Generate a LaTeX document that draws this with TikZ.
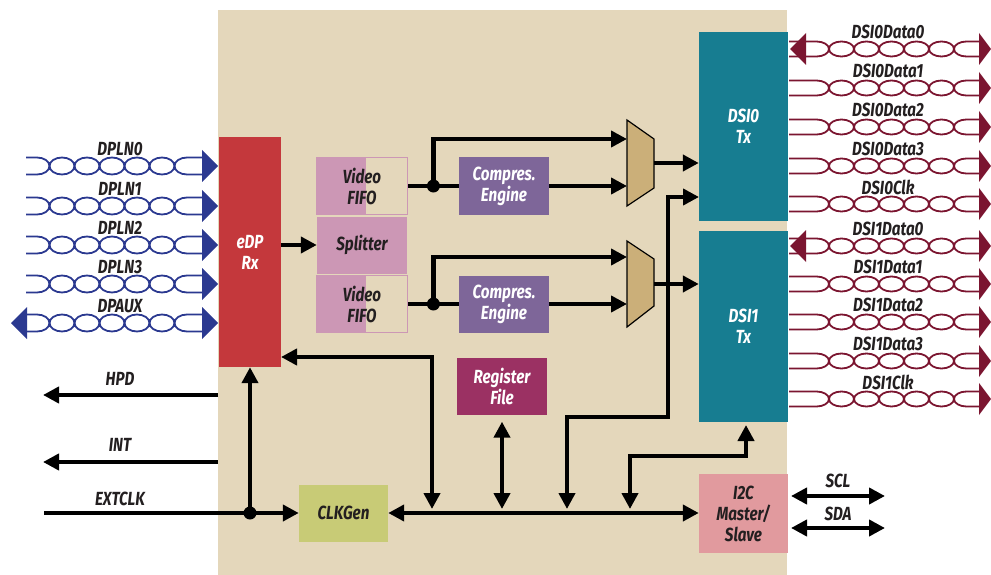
\documentclass[tikz,border=0pt]{standalone}
\usepackage{fontspec}
\setmainfont{Fira Sans}[FakeStretch=0.8]
\usetikzlibrary{arrows.meta}
\usetikzlibrary{calc}

\definecolor{bgbeige}{HTML}{E4D7BB}
\definecolor{edpred}{HTML}{C4383C}
\definecolor{fifopink}{HTML}{CC97B5}
\definecolor{engpurple}{HTML}{7E6699}
\definecolor{muxtan}{HTML}{CBAF79}
\definecolor{dsiteal}{HTML}{177D91}
\definecolor{regred}{HTML}{9B3163}
\definecolor{clkgreen}{HTML}{C8CB76}
\definecolor{i2cpink}{HTML}{E19A9E}
\definecolor{dpblue}{HTML}{2B3990}
\definecolor{dsired}{HTML}{7B1530}
\definecolor{txtdark}{HTML}{231F20}

% twisted pair: x start, y, first straight, last straight, colour, half gap
\newcommand{\twpair}[6]{%
	\draw[pair,#5] (#1,#2-#6) -- ++(#3,0)
		arc[start angle=90,end angle=0,x radius=12.5pt,y radius=#6pt]
		\foreach \k in {1,...,5}{arc[start angle=180,end angle=0,x radius=12.5pt,y radius=#6pt]}
		arc[start angle=180,end angle=90,x radius=12.5pt,y radius=#6pt] -- ++(#4,0);
	\draw[pair,#5] (#1,#2+#6) -- ++(#3,0)
		arc[start angle=-90,end angle=0,x radius=12.5pt,y radius=#6pt]
		\foreach \k in {1,...,5}{arc[start angle=180,end angle=360,x radius=12.5pt,y radius=#6pt]}
		arc[start angle=180,end angle=270,x radius=12.5pt,y radius=#6pt] -- ++(#4,0);
}
% pair arrow head: base x, y, length (signed), colour
\newcommand{\ptip}[4]{%
	\fill[#4] (#1,#2-16) -- (#1+#3,#2) -- (#1,#2+16) -- cycle;
}

\begin{document}
\begin{tikzpicture}[x={(1pt,0pt)},y={(0pt,-1pt)}]
			\tikzset{block/.style={minimum width=90pt, minimum height=57pt, inner sep=0pt, align=center,
					text=txtdark, font=\fontsize{19}{21}\selectfont\bfseries\itshape}}
			\tikzset{lbl/.style={text=txtdark, inner sep=0pt, font=\fontsize{19}{21}\selectfont\bfseries\itshape}}
			\tikzset{pair/.style={line width=1.8pt}}
			\tikzset{link/.style={line width=4.5pt}}
			\tikzset{arr/.style={link, -{Triangle[length=16pt,width=16pt]}}}
			\tikzset{arr2/.style={link, {Triangle[length=16pt,width=16pt]}-{Triangle[length=16pt,width=16pt]}}}
			\tikzset{mux/.style={fill=muxtan, draw=black, line width=1.2pt}}
			\useasboundingbox (0,0) rectangle (991,575);
			\fill[bgbeige] (218,10) rectangle (787,575);
			%blocks
			\node[block, fill=edpred, text=white, minimum width=62pt, minimum height=230pt] (edp) at (250,252) {eDP\\Rx};
			\node[block, fill=bgbeige, draw=fifopink, line width=1pt, minimum width=91pt,
				path picture={\fill[fifopink] (path picture bounding box.south west) rectangle ([xshift=4pt]path picture bounding box.north);}]
				(fifoA) at (362,186) {Video\\FIFO};
			\node[block, fill=fifopink] (split) at (362,245) {Splitter};
			\node[block, fill=bgbeige, draw=fifopink, line width=1pt, minimum width=91pt,
				path picture={\fill[fifopink] (path picture bounding box.south west) rectangle ([xshift=4pt]path picture bounding box.north);}]
				(fifoB) at (362,304) {Video\\FIFO};
			\node[block, fill=engpurple, text=white] (engA) at (504,186) {Compres.\\Engine};
			\node[block, fill=engpurple, text=white] (engB) at (504,304) {Compres.\\Engine};
			\node[block, fill=dsiteal, text=white, minimum width=89pt, minimum height=189pt] (dsi0) at (743.5,126.5) {DSI0\\Tx};
			\node[block, fill=dsiteal, text=white, minimum width=89pt, minimum height=191pt] (dsi1) at (743.5,326.5) {DSI1\\Tx};
			\node[block, fill=regred, text=white] (reg) at (502,386) {Register\\File};
			\node[block, fill=clkgreen, minimum width=89pt] (clk) at (343.5,513) {CLKGen};
			\node[block, fill=i2cpink, minimum width=89pt, minimum height=79pt] (i2c) at (743.5,513.5) {I2C\\Master/\\Slave};
			%muxes
			\draw[mux] (627,120) -- (654,139) -- (654,188) -- (627,206) -- cycle;
			\draw[mux] (627,241) -- (654,259) -- (654,306) -- (627,327) -- cycle;
			\coordinate (muxAin1) at (627,139);
			\coordinate (muxAin2) at (627,187);
			\coordinate (muxAout) at (654,163);
			\coordinate (muxBin1) at (627,257);
			\coordinate (muxBin2) at (627,307);
			\coordinate (muxBout) at (654,284);
			%video path
			\draw[arr] (edp.east |- split) -- (split.west);
			\coordinate (dotA) at ($(fifoA.east)!0.5!(engA.west)$);
			\coordinate (dotB) at ($(fifoB.east)!0.5!(engB.west)$);
			\draw[link] (fifoA.east) -- (engA.west);
			\draw[link] (fifoB.east) -- (engB.west);
			\draw[arr] (dotA) |- (muxAin1);
			\draw[arr] (dotB) |- (muxBin1);
			\fill (dotA) circle (6.5pt);
			\fill (dotB) circle (6.5pt);
			\draw[arr] (engA.east) -- (engA.east -| muxAin2);
			\draw[arr] (engB.east) -- (engB.east -| muxBin2);
			\draw[arr] (muxAout) -- (muxAout -| dsi0.west);
			\draw[arr] (muxBout) -- (muxBout -| dsi1.west);
			%clock and control
			\coordinate (extclk) at (44,513);
			\coordinate (dotE) at (edp.south |- clk);
			\draw[arr] (extclk) -- (clk.west);
			\draw[arr] (dotE) -- (edp.south);
			\fill (dotE) circle (6.5pt);
			\coordinate (hpdA) at (218,395);
			\coordinate (hpdB) at (43,395);
			\coordinate (intA) at (218,462);
			\coordinate (intB) at (43,462);
			\draw[arr] (hpdA) -- (hpdB);
			\draw[arr] (intA) -- (intB);
			\node[lbl] (hpd) at (120,379) {HPD};
			\node[lbl] (int) at (120,445) {INT};
			\node[lbl] (ext) at (120,499) {EXTCLK};
			%bus
			\draw[arr2] (clk.east) -- (i2c.west |- clk.east);
			\coordinate (retA) at (281,357);
			\coordinate (retB) at (432,509);
			\draw[arr2] (retA) -| (retB);
			\draw[arr2] ([yshift=-7pt]reg.south) -- (reg.south |- retB);
			\coordinate (d0in) at (699,197);
			\coordinate (d0a) at (668,417);
			\coordinate (d0b) at (567,509);
			\draw[arr2] (d0in) -| (d0a) -| (d0b);
			\coordinate (d1in) at (746,425);
			\coordinate (d1a) at (630,456);
			\coordinate (d1b) at (630,509);
			\draw[arr2] (d1in) |- (d1a) -- (d1b);
			\coordinate (sclA) at (791,496);
			\coordinate (sclB) at (885,496);
			\coordinate (sdaA) at (791,528);
			\coordinate (sdaB) at (885,528);
			\draw[arr2] (sclA) -- (sclB);
			\draw[arr2] (sdaA) -- (sdaB);
			\node[lbl] (scl) at (838,481) {SCL};
			\node[lbl] (sda) at (838,514) {SDA};
			%displayport lanes
			\foreach \n/\y in {DPLN0/166, DPLN1/206, DPLN2/245, DPLN3/284, DPAUX/323} {
				\twpair{26}{\y}{11}{15}{dpblue}{8.5}
				\ptip{202}{\y}{16}{dpblue}
				\node[lbl] (\n) at (120,\y-17) {\n};
			}
			\ptip{27}{323}{-16}{dpblue}
			%dsi lanes
			\foreach \n/\y in {DSI0Data0/49, DSI0Data1/88, DSI0Data2/127, DSI0Data3/166, DSI0Clk/204,
					DSI1Data0/246, DSI1Data1/284, DSI1Data2/322, DSI1Data3/361, DSI1Clk/399} {
				\twpair{789}{\y}{27.5}{12.5}{dsired}{7.5}
				\ptip{979}{\y}{12}{dsired}
				\node[lbl] (\n) at (888,\y-17) {\n};
			}
			\ptip{806}{49}{-16}{dsired}
			\ptip{806}{246}{-16}{dsired}
\end{tikzpicture}
\end{document}
